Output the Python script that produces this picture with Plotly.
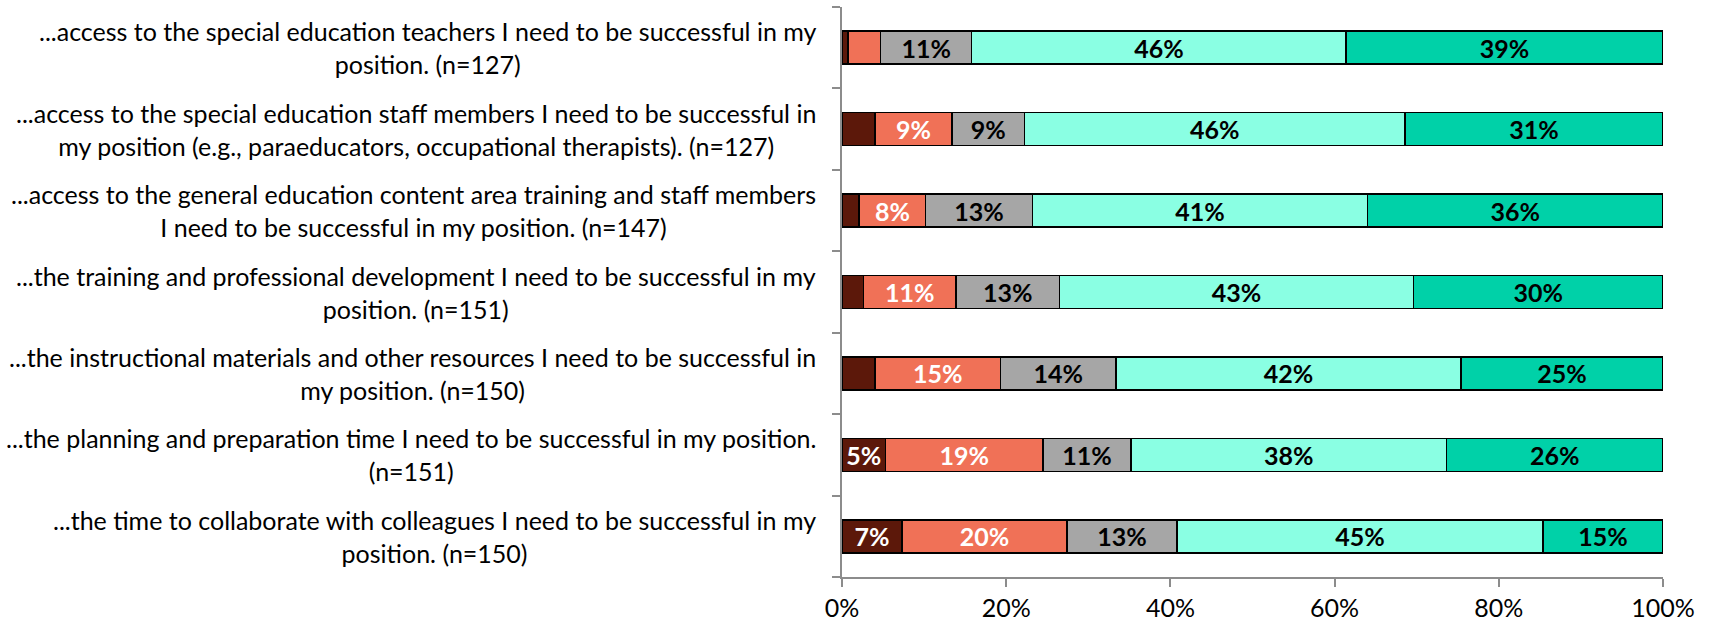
import plotly.graph_objects as go

# Survey items (top to bottom)
items = [
    "...access to the special education teachers I need to be successful in my<br>position. (n=127)",
    "...access to the special education staff members I need to be successful in<br>my position (e.g., paraeducators, occupational therapists). (n=127)",
    "...access to the general education content area training and staff members<br>I need to be successful in my position. (n=147)",
    "...the training and professional development I need to be successful in my<br>position. (n=151)",
    "...the instructional materials and other resources I need to be successful in<br>my position. (n=150)",
    "...the planning and preparation time I need to be successful in my position.<br>(n=151)",
    "...the time to collaborate with colleagues I need to be successful in my<br>position. (n=150)",
]

# Response shares (%) per item
strongly_disagree = [0.7, 4.0, 2.1, 2.6, 4.0, 5.3, 7.3]
disagree = [4.0, 9.4, 8.1, 11.3, 15.3, 19.2, 20.1]
neutral = [11.1, 8.8, 13.0, 12.6, 14.1, 10.7, 13.4]
agree = [45.6, 46.4, 40.8, 43.1, 42.0, 38.4, 44.6]
strongly_agree = [38.6, 31.4, 36.0, 30.4, 24.6, 26.4, 14.6]

x_ticks = [0, 20, 40, 60, 80, 100]
x_tick_labels = ["0%", "20%", "40%", "60%", "80%", "100%"]

series = [
    ("Strongly disagree", strongly_disagree, "#5C180A", "white"),
    ("Disagree", disagree, "#F07157", "white"),
    ("Neutral", neutral, "#A6A6A6", "black"),
    ("Agree", agree, "#8AFFE3", "black"),
    ("Strongly agree", strongly_agree, "#00D1A8", "black"),
]

FONT = "Lato"

fig = go.Figure()
for name, vals, color, tcolor in series:
    labels = [f"{round(v)}%" if v >= 5 else "" for v in vals]
    fig.add_trace(go.Bar(
        y=list(range(len(items))),
        x=vals,
        name=name,
        orientation="h",
        marker=dict(color=color, line=dict(color="black", width=1.5)),
        text=labels,
        textposition="inside",
        insidetextanchor="middle",
        textangle=0,
        constraintext="none",
        textfont=dict(family=FONT, size=25, color=tcolor, weight="bold"),
        hoverinfo="skip",
    ))

# Category labels, centred line by line, to the left of the axis
for i, label in enumerate(items):
    fig.add_annotation(
        x=0, xref="paper", y=i, yref="y",
        text=label, showarrow=False,
        xanchor="right", yanchor="middle", align="center",
        xshift=-24,
        font=dict(family=FONT, size=25, color="black"),
    )

fig.update_layout(
    barmode="stack",
    bargap=0.595,
    width=1711, height=622,
    margin=dict(l=842, r=48, t=7, b=45),
    paper_bgcolor="white",
    plot_bgcolor="white",
    showlegend=False,
    font=dict(family=FONT, size=25, color="black"),
    uniformtext=dict(mode=False),
)
fig.update_xaxes(
    range=[0, 100],
    tickvals=x_ticks, ticktext=x_tick_labels,
    showgrid=False, zeroline=False,
    showline=True, linecolor="#8C8C8C", linewidth=2,
    ticks="outside", ticklen=8, tickwidth=2, tickcolor="#8C8C8C",
    automargin=False,
    tickfont=dict(family=FONT, size=25, color="black"),
)
fig.update_yaxes(
    type="linear",
    range=[len(items) - 0.5, -0.5],
    tickvals=[i - 0.5 for i in range(len(items) + 1)],
    showticklabels=False,
    showgrid=False, zeroline=False,
    showline=True, linecolor="#8C8C8C", linewidth=2,
    ticks="outside", ticklen=8, tickwidth=2, tickcolor="#8C8C8C",
)

fig.write_html("out.html")
